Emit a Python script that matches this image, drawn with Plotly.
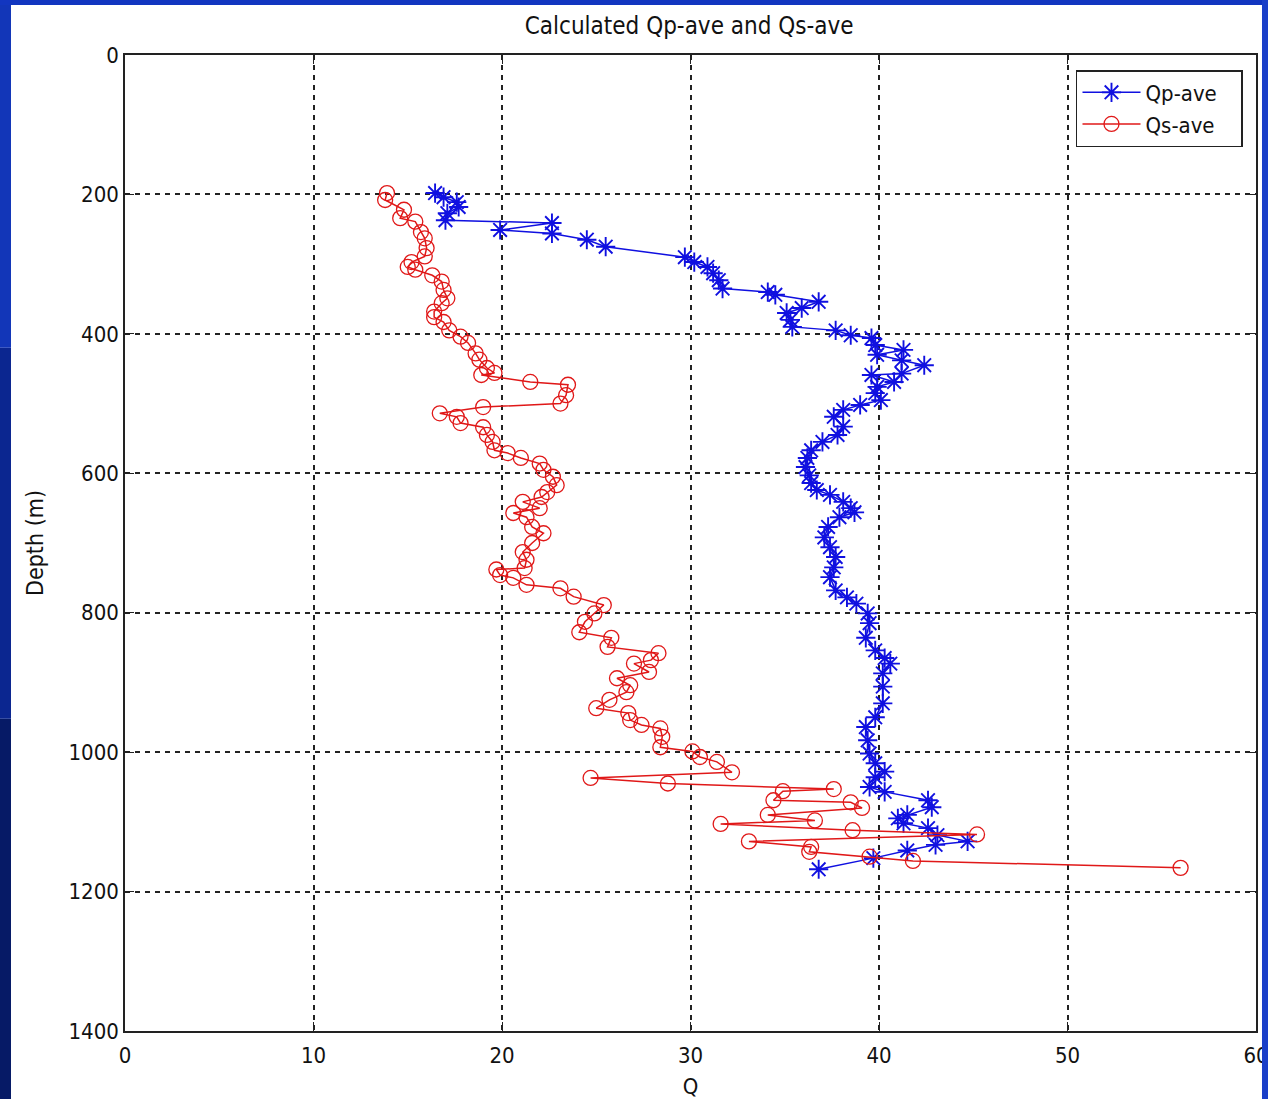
import plotly.graph_objects as go

# Averaged P-wave quality factor versus depth
qp_depth = [198, 204, 211, 218, 227, 237, 241, 251, 256, 265, 275, 290, 297, 304, 313, 323,
            335, 340, 344, 354, 363, 370, 380, 390, 395, 402, 406, 416, 423, 430, 438, 445,
            457, 459, 469, 476, 485, 495, 502, 509, 519, 533, 545, 555, 567, 578, 591, 603,
            614, 624, 631, 641, 650, 656, 663, 677, 692, 706, 720, 735, 749, 768, 778, 787,
            801, 815, 836, 854, 865, 873, 887, 906, 930, 950, 964, 983, 1002, 1016, 1028,
            1036, 1050, 1057, 1069, 1079, 1090, 1095, 1102, 1109, 1119, 1128, 1133, 1141,
            1152, 1168]
qp_value = [16.45, 16.9, 17.6, 17.7, 17.1, 17.0, 22.65, 19.9, 22.65, 24.5, 25.5, 29.7, 30.2,
            30.9, 31.2, 31.5, 31.7, 34.1, 34.5, 36.8, 35.9, 35.1, 35.3, 35.4, 37.7, 38.5, 39.6,
            39.8, 41.3, 39.9, 41.2, 42.4, 41.2, 39.6, 40.8, 39.9, 39.8, 40.1, 39.0, 38.1, 37.6,
            38.1, 37.8, 37.0, 36.4, 36.2, 36.1, 36.3, 36.4, 36.7, 37.4, 38.1, 38.5, 38.7, 37.9,
            37.3, 37.1, 37.4, 37.7, 37.6, 37.4, 37.7, 38.3, 38.8, 39.4, 39.5, 39.3, 39.8, 40.3,
            40.6, 40.2, 40.2, 40.2, 39.8, 39.3, 39.4, 39.5, 39.8, 40.3, 39.8, 39.5, 40.3, 42.6,
            42.8, 41.5, 41.0, 41.3, 42.6, 43.1, 44.7, 43.0, 41.5, 39.7, 36.8]

# Averaged S-wave quality factor versus depth
qs_depth = [198, 208, 222, 234, 239, 254, 263, 277, 289, 297, 304, 308, 316, 325, 337, 349,
            356, 368, 376, 383, 395, 404, 413, 428, 437, 449, 456, 459, 469, 473, 488, 500,
            505, 514, 519, 528, 534, 545, 555, 567, 571, 578, 586, 595, 605, 617, 627, 634,
            641, 650, 657, 663, 677, 686, 700, 713, 724, 736, 738, 746, 750, 760, 765, 777,
            789, 801, 813, 828, 836, 849, 858, 868, 873, 885, 894, 904, 914, 925, 937, 944,
            954, 961, 966, 978, 993, 999, 1007, 1014, 1029, 1037, 1045, 1053, 1056, 1069,
            1072, 1080, 1090, 1098, 1103, 1112, 1118, 1128, 1136, 1143, 1150, 1156, 1166]
qs_value = [13.9, 13.8, 14.8, 14.6, 15.4, 15.7, 15.9, 16.0, 15.9, 15.2, 15.0, 15.4, 16.3, 16.8,
            16.9, 17.1, 16.8, 16.4, 16.4, 16.9, 17.2, 17.8, 18.2, 18.6, 18.8, 19.2, 19.6, 18.9,
            21.5, 23.5, 23.4, 23.1, 19.0, 16.7, 17.6, 17.8, 19.0, 19.2, 19.5, 19.6, 20.3, 21.0,
            22.0, 22.2, 22.7, 22.9, 22.4, 22.1, 21.1, 22.0, 20.6, 21.3, 21.6, 22.2, 21.6, 21.1,
            21.3, 21.2, 19.7, 19.9, 20.6, 21.3, 23.1, 23.8, 25.4, 24.9, 24.4, 24.1, 25.8, 25.6,
            28.3, 27.9, 27.0, 27.8, 26.1, 26.8, 26.6, 25.7, 25.0, 26.7, 26.8, 27.4, 28.4, 28.5,
            28.4, 30.1, 30.5, 31.4, 32.2, 24.7, 28.8, 37.6, 34.9, 34.4, 38.5, 39.1, 34.1, 36.6,
            31.6, 38.6, 45.2, 33.1, 36.4, 36.3, 39.5, 41.8, 56.0]

x_ticks = [0, 10, 20, 30, 40, 50, 60]
y_ticks = [0, 200, 400, 600, 800, 1000, 1200, 1400]

FONT = "DejaVu Sans Condensed, Liberation Sans Narrow, Liberation Sans, sans-serif"
BLUE = "#1010e0"
RED = "#e01818"
PAD = "\u00a0\u00a0\u00a0"  # right padding inside the legend box

fig = go.Figure()
fig.add_trace(go.Scatter(
    x=qp_value, y=qp_depth, name="Qp-ave" + PAD, mode="lines+markers",
    line=dict(color=BLUE, width=1.5),
    marker=dict(symbol="asterisk-open", size=16, color=BLUE, line=dict(color=BLUE, width=1.9)),
))
fig.add_trace(go.Scatter(
    x=qs_value, y=qs_depth, name="Qs-ave" + PAD, mode="lines+markers",
    line=dict(color=RED, width=1.5),
    marker=dict(symbol="circle-open", size=15, color=RED, line=dict(color=RED, width=1.3)),
))

axis_common = dict(
    showline=True, linecolor="#222", linewidth=1.5, mirror="allticks",
    ticks="inside", ticklen=9, tickwidth=1.2, tickcolor="#222",
    showgrid=True, gridcolor="#222", gridwidth=1.6, griddash="5px,5px",
    zeroline=False, automargin=False, ticklabeloverflow="allow",
    tickfont=dict(family=FONT, size=22, color="#111"),
)

fig.update_xaxes(range=[0, 60], tickvals=x_ticks, ticklabelstandoff=4,
                 title=dict(text="Q", font=dict(family=FONT, size=22, color="#111"), standoff=12),
                 **axis_common)
fig.update_yaxes(range=[1400, 0], tickvals=y_ticks,
                 title=dict(text="Depth (m)", font=dict(family=FONT, size=23, color="#111"), standoff=18),
                 **axis_common)

# slide frame around the figure
frame = [
    dict(x0=-0.1106, x1=-0.1008, y0=-0.07, y1=0.32, fillcolor="#061a66"),
    dict(x0=-0.1106, x1=-0.1008, y0=0.32, y1=0.70, fillcolor="#0b2690"),
    dict(x0=-0.1106, x1=-0.1008, y0=0.70, y1=1.06, fillcolor="#1236b8"),
    dict(x0=-0.1106, x1=1.011, y0=1.0512, y1=1.06, fillcolor="#1236c0"),
    dict(x0=1.0053, x1=1.011, y0=-0.07, y1=1.06, fillcolor="#1a3fc8"),
]
fig.update_layout(shapes=[dict(type="rect", xref="paper", yref="paper", line=dict(width=0),
                               layer="above", **f) for f in frame])

fig.update_layout(
    width=1268, height=1099, autosize=False,
    margin=dict(l=125, r=12, t=55, b=68),
    paper_bgcolor="white", plot_bgcolor="white",
    title=dict(text="Calculated Qp-ave and Qs-ave", x=0.5435, xanchor="center",
               y=0.977, yanchor="middle",
               font=dict(family=FONT, size=24, color="#111")),
    legend=dict(x=0.9885, y=0.9846, xanchor="right", yanchor="top",
                bgcolor="white", bordercolor="#222", borderwidth=1.5,
                font=dict(family=FONT, size=22, color="#111"),
                itemwidth=58, tracegroupgap=0),
    showlegend=True,
)

fig.write_html("out.html")
